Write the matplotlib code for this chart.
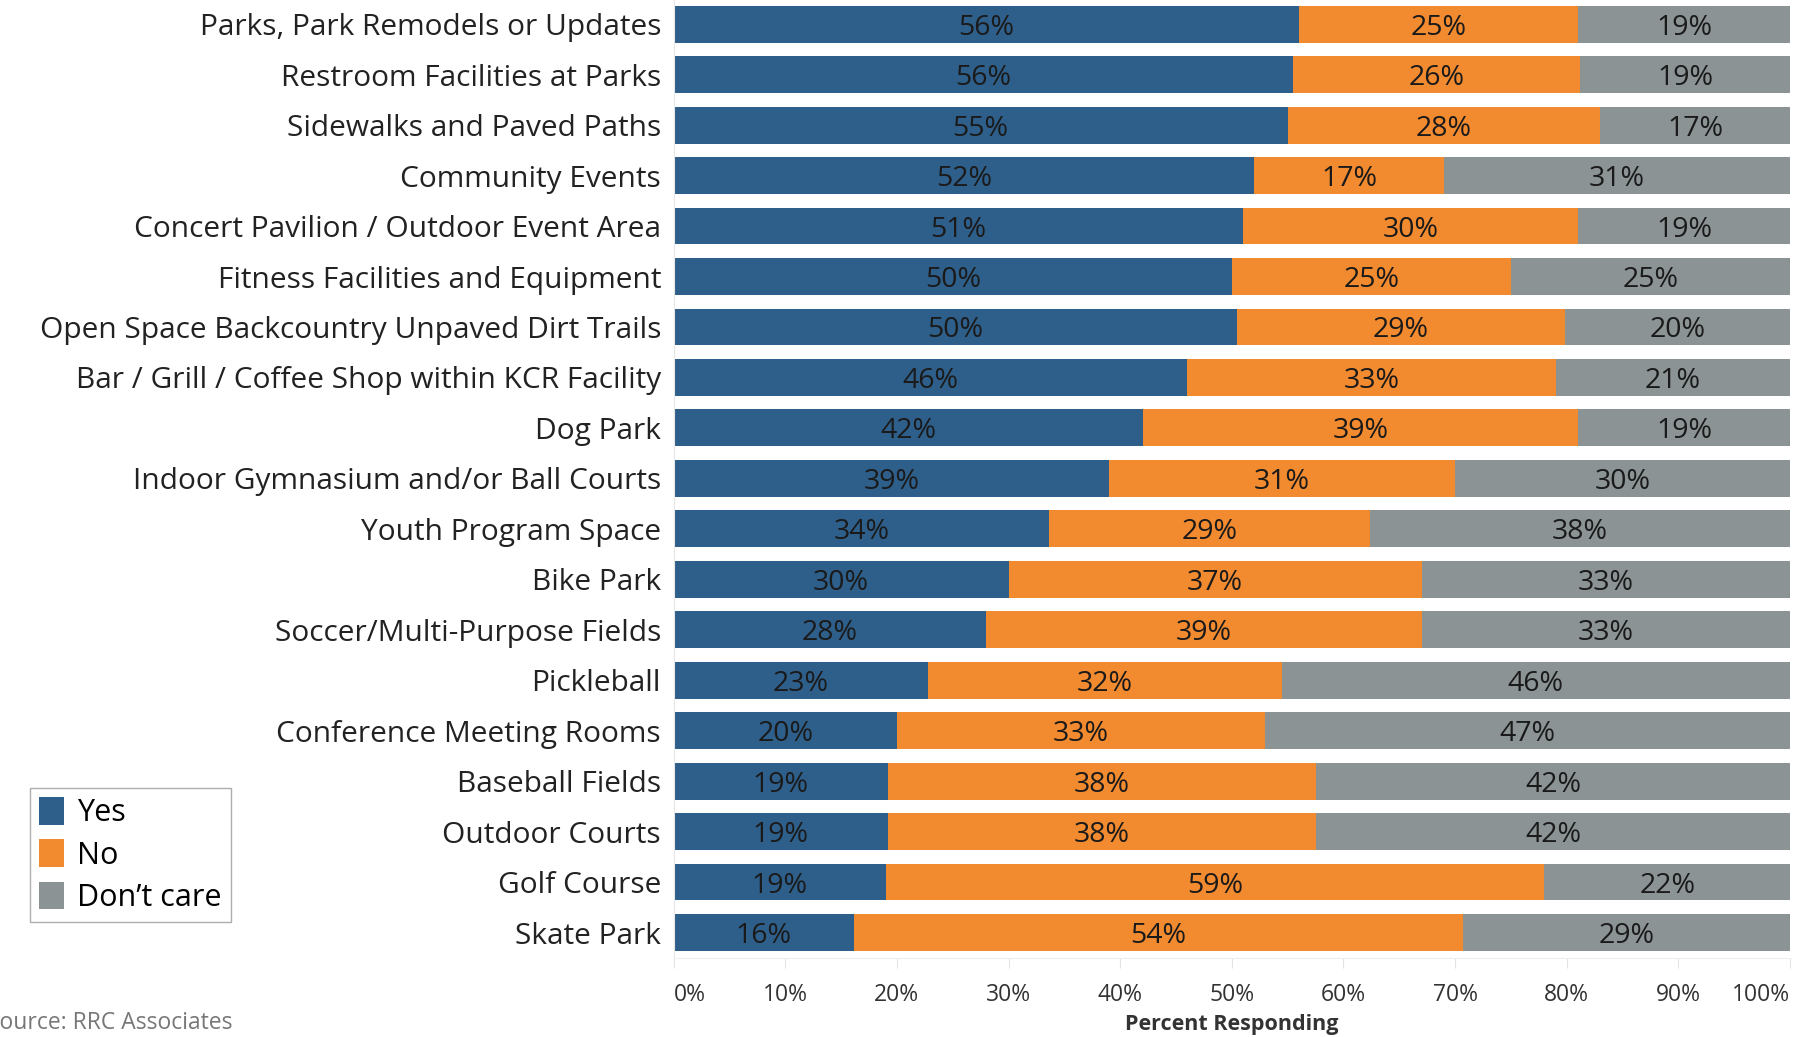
import matplotlib.pyplot as plt
import numpy as np
from matplotlib.patches import Patch

plt.rcParams['font.family'] = ['Open Sans', 'DejaVu Sans']

categories = ['Parks, Park Remodels or Updates', 'Restroom Facilities at Parks',
              'Sidewalks and Paved Paths', 'Community Events',
              'Concert Pavilion / Outdoor Event Area', 'Fitness Facilities and Equipment',
              'Open Space Backcountry Unpaved Dirt Trails',
              'Bar / Grill / Coffee Shop within KCR Facility', 'Dog Park',
              'Indoor Gymnasium and/or Ball Courts', 'Youth Program Space', 'Bike Park',
              'Soccer/Multi-Purpose Fields', 'Pickleball', 'Conference Meeting Rooms',
              'Baseball Fields', 'Outdoor Courts', 'Golf Course', 'Skate Park']
yes = [56, 56, 55, 52, 51, 50, 50, 46, 42, 39, 34, 30, 28, 23, 20, 19, 19, 19, 16]
no = [25, 26, 28, 17, 30, 25, 29, 33, 39, 31, 29, 37, 39, 32, 33, 38, 38, 59, 54]
dont_care = [19, 19, 17, 31, 19, 25, 20, 21, 19, 30, 38, 33, 33, 46, 47, 42, 42, 22, 29]
series_names = ['Yes', 'No', 'Don\u2019t care']
colors = ['#2e5f8a', '#f28a30', '#8b9395']
xticks = [0, 10, 20, 30, 40, 50, 60, 70, 80, 90, 100]

vals = np.array([yes, no, dont_care], dtype=float)
shares = vals / vals.sum(axis=0) * 100  # bars fill the full width like in Tableau

fig = plt.figure(figsize=(18, 10.37), dpi=100)
ax = fig.add_axes([0.3742, 0.0764, 0.6203, 0.9246])

y = np.arange(len(categories))
left = np.zeros(len(categories))
for i in range(3):
    ax.barh(y, shares[i], left=left, height=0.73, color=colors[i], label=series_names[i])
    for j in range(len(categories)):
        ax.text(left[j] + shares[i][j] / 2, y[j], f'{int(vals[i][j])}%',
                ha='center', va='center_baseline', fontsize=20.5, color='#1a1a1a')
    left += shares[i]

ax.set_ylim(len(categories) - 0.5, -0.5)
ax.set_xlim(0, 100)
ax.set_yticks(y)
ax.set_yticklabels(categories, fontsize=21.5, color='#222222', va='center_baseline')
ax.tick_params(axis='y', length=0, pad=9)

ax.set_xticks(xticks)
ax.set_xticklabels([f'{t}%' for t in xticks], fontsize=16.5, color='#333333')
labels = ax.get_xticklabels()
labels[0].set_ha('left')
labels[-1].set_ha('right')
ax.tick_params(axis='x', length=7, color='#e3e3e3', pad=11)
ax.set_xlabel('Percent Responding', fontsize=15.5, fontweight='bold', color='#333333', labelpad=5)

for s in ['top', 'right']:
    ax.spines[s].set_visible(False)
ax.spines['left'].set_color('#e6e6e6')
ax.spines['bottom'].set_color('#eeeeee')

handles = [Patch(facecolor=c, edgecolor='none') for c in colors]
fig.legend(handles, series_names, loc='lower left', bbox_to_anchor=(0.0167, 0.111),
           fontsize=22, frameon=True, fancybox=False, edgecolor='#999999',
           handlelength=0.8, handleheight=1.0, handletextpad=0.45, labelspacing=0.36,
           borderpad=0.3, borderaxespad=0)

fig.text(-0.007, 0.002, 'Source: RRC Associates', fontsize=16.5, color='#777777', ha='left', va='bottom')

fig.savefig('out.png', dpi=100)
